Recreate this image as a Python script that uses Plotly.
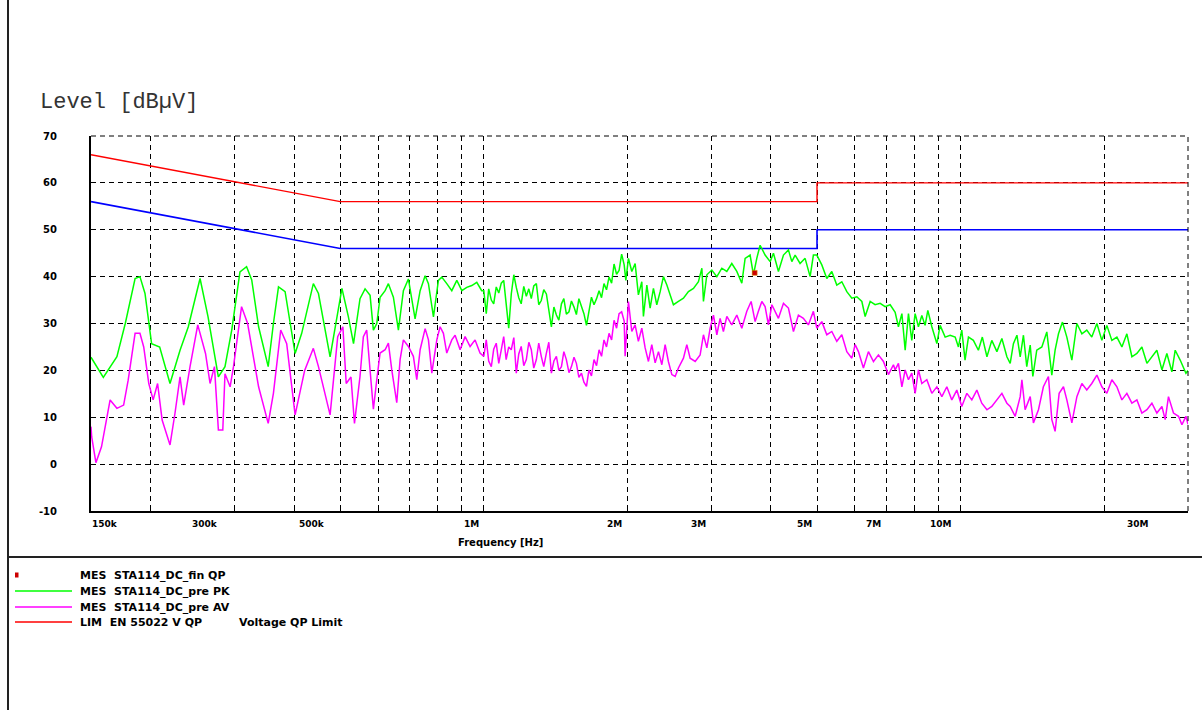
import math
import plotly.graph_objects as go

# ---------------- data ----------------
# frequencies in MHz, levels in dBuV
pk_freq = [0.150, 0.1592, 0.170, 0.177, 0.1856, 0.190, 0.1947, 0.201, 0.209, 0.2197,
           0.2306, 0.240, 0.254, 0.264, 0.2775, 0.2865, 0.296, 0.308, 0.318, 0.326,
           0.337, 0.353, 0.362, 0.371, 0.383, 0.402, 0.415, 0.439, 0.450, 0.476,
           0.504, 0.520, 0.533, 0.550, 0.5636, 0.5774, 0.5867, 0.5964, 0.606, 0.6209,
           0.6308, 0.6462, 0.662, 0.6782, 0.6948, 0.7063, 0.7176, 0.7353, 0.7533, 0.7654,
           0.7842, 0.8031, 0.8163, 0.8363, 0.8568, 0.8778, 0.8994, 0.921, 0.9437, 0.9667,
           0.990,
           1.000, 1.012, 1.024, 1.037, 1.049, 1.062, 1.075, 1.088, 1.101, 1.114,
           1.128, 1.142, 1.156, 1.170, 1.184, 1.198, 1.213, 1.228, 1.243, 1.258,
           1.273, 1.289, 1.304, 1.320, 1.336, 1.353, 1.369, 1.386, 1.403, 1.420,
           1.437, 1.455, 1.472, 1.490, 1.509, 1.527, 1.546, 1.564, 1.583, 1.603,
           1.622, 1.642, 1.662, 1.682, 1.703, 1.724, 1.745, 1.766, 1.787, 1.809,
           1.831, 1.854, 1.876, 1.899, 1.922, 1.946, 1.970, 1.986,
           2.011, 2.044, 2.077, 2.110, 2.145, 2.162,
           2.198, 2.233, 2.269, 2.306, 2.344, 2.381, 2.421, 2.459, 2.499, 2.560,
           2.623, 2.687, 2.753, 2.820, 2.867, 2.889, 2.937, 3.008, 3.082, 3.157,
           3.234, 3.313, 3.394, 3.477, 3.533, 3.619, 3.678, 3.738, 3.798, 3.891,
           3.987, 4.051, 4.150, 4.252, 4.355, 4.427, 4.498, 4.607, 4.720, 4.836,
           4.913, 4.995, 5.117, 5.242, 5.370, 5.501, 5.636, 5.774, 5.915, 6.060,
           6.209, 6.308, 6.463, 6.620, 6.782, 6.947, 7.118, 7.292, 7.409, 7.533,
           7.654, 7.776, 7.902, 8.031, 8.160, 8.295, 8.427, 8.539, 8.706, 8.919,
           9.062, 9.284, 9.510, 9.743, 9.899, 10.06, 10.22, 10.39, 10.64, 10.90,
           11.11, 11.36, 11.63, 11.92, 12.21, 12.51, 12.71, 12.91, 13.13, 13.34,
           13.55, 13.77, 14.00, 14.18, 14.45, 14.81, 15.17, 15.54, 15.79, 16.05,
           16.36, 16.71, 17.12, 17.54, 17.97, 18.40, 18.85, 19.32, 19.79, 20.27,
           20.77, 21.28, 21.80, 22.33, 22.88, 23.44, 24.01, 24.60, 25.20, 25.81,
           26.45, 27.09, 27.75, 28.20, 28.89, 29.70, 30.0]
pk_level = [22.8, 18.5, 22.9, 30.0, 39.6, 40.0, 36.4, 25.7, 25.0, 17.2,
            24.3, 29.3, 39.6, 31.4, 18.6, 20.8, 28.6, 41.0, 42.1, 39.3,
            29.3, 20.8, 30.0, 37.8, 36.8, 23.6, 27.9, 38.5, 36.4, 22.9,
            37.5, 31.4, 25.7, 35.3, 37.4, 36.0, 28.6, 30.0, 35.6, 37.0,
            38.5, 35.6, 28.6, 37.0, 39.5, 35.6, 31.0, 37.0, 40.2, 38.5,
            31.4, 39.2, 39.9, 38.5, 37.0, 39.2, 37.0, 37.7, 38.1, 38.8,
            37.0,
            37.0, 32.1, 37.4, 35.0, 34.2, 37.8, 36.5, 38.6, 39.2, 33.5,
            29.0, 36.3, 40.4, 37.7, 35.5, 34.2, 37.9, 35.8, 37.4, 35.3,
            38.0, 38.5, 34.0, 34.9, 37.2, 36.3, 33.0, 29.3, 33.5, 31.8,
            30.7, 34.2, 35.3, 32.0, 32.5, 34.8, 33.5, 31.9, 35.3, 33.6,
            32.1, 29.6, 33.0, 35.6, 34.0, 35.3, 37.0, 35.5, 38.5, 37.2,
            39.9, 38.6, 42.7, 40.5, 41.3, 44.8, 42.5, 39.2,
            43.9, 41.1, 42.8, 36.1, 38.9, 31.5,
            38.2, 33.3, 37.5, 34.0, 36.8, 40.0, 38.2, 36.1, 34.0, 34.7,
            35.4, 36.8, 37.5, 38.9, 41.8, 34.7, 40.4, 41.4, 40.0, 41.8,
            41.1, 42.8, 41.1, 38.6, 43.9, 44.6, 40.4, 43.9, 46.7, 44.6,
            43.2, 45.0, 41.1, 44.6, 45.7, 43.2, 44.6, 42.8, 43.9, 40.0,
            44.6, 44.6, 42.5, 39.6, 41.1, 38.2, 38.9, 36.8, 35.4, 35.7,
            34.7, 31.5, 34.7, 34.0, 34.3, 33.6, 34.0, 32.4, 29.3, 32.1,
            24.3, 32.1, 26.4, 32.1, 29.3, 31.7, 29.6, 32.8, 29.3, 25.7,
            29.6, 27.1, 27.5, 27.1, 25.0, 28.6, 22.2, 27.1, 26.4, 24.3,
            27.1, 22.9, 26.4, 24.0, 26.8, 22.9, 21.5, 25.7, 27.5, 22.9,
            27.5, 20.8, 25.4, 18.7, 24.3, 25.0, 28.2, 19.0, 24.3, 27.8,
            30.3, 27.1, 22.2, 30.0, 27.8, 28.6, 27.1, 30.0, 26.4, 29.6,
            26.4, 27.1, 25.0, 27.8, 22.9, 23.6, 25.0, 21.5, 22.9, 24.3,
            20.1, 23.6, 19.7, 24.3, 22.2, 19.4, 20.0]

av_freq = [0.150, 0.1505, 0.1536, 0.1578, 0.1645, 0.170, 0.1756, 0.1795, 0.1856, 0.190,
           0.1935, 0.1983, 0.2025, 0.2069, 0.2115, 0.2197, 0.225, 0.2306, 0.2347, 0.242,
           0.2512, 0.2608, 0.2666, 0.2723, 0.2775, 0.2835, 0.2865, 0.2937, 0.2985, 0.3104,
           0.3196, 0.337, 0.353, 0.362, 0.375, 0.386, 0.402, 0.421, 0.439, 0.450,
           0.476, 0.4817, 0.4938, 0.5063, 0.5145, 0.5265, 0.5355, 0.550, 0.559, 0.568,
           0.5774, 0.5867, 0.5964, 0.606, 0.6209, 0.6308, 0.6412, 0.6568, 0.6675, 0.6782,
           0.6948, 0.7117, 0.7235, 0.7353, 0.7533, 0.7654, 0.778, 0.797, 0.8097, 0.8228,
           0.8363, 0.8568, 0.8706, 0.892, 0.9137, 0.936, 0.9588, 0.982,
           1.000, 1.012, 1.024, 1.037, 1.049, 1.062, 1.075, 1.088, 1.101, 1.114,
           1.128, 1.142, 1.156, 1.170, 1.184, 1.198, 1.213, 1.228, 1.243, 1.258,
           1.273, 1.289, 1.304, 1.320, 1.336, 1.353, 1.369, 1.386, 1.403, 1.420,
           1.437, 1.455, 1.472, 1.490, 1.509, 1.527, 1.546, 1.564, 1.583, 1.603,
           1.622, 1.642, 1.662, 1.682, 1.703, 1.724, 1.745, 1.766, 1.787, 1.809,
           1.831, 1.854, 1.876, 1.899, 1.922, 1.946, 1.970,
           1.979, 2.011, 2.044, 2.077, 2.110, 2.145, 2.180, 2.215, 2.251, 2.288,
           2.325, 2.363, 2.401, 2.439, 2.480, 2.520, 2.560, 2.623, 2.666, 2.709,
           2.776, 2.843, 2.889, 2.937, 2.984, 3.032, 3.082, 3.131, 3.181, 3.234,
           3.313, 3.394, 3.477, 3.562, 3.637, 3.708, 3.767, 3.830, 3.891, 3.954,
           4.020, 4.085, 4.150, 4.252, 4.355, 4.462, 4.570, 4.681, 4.796, 4.913,
           4.995, 5.117, 5.242, 5.370, 5.501, 5.636, 5.774, 5.915, 6.010, 6.107,
           6.256, 6.409, 6.567, 6.726, 6.891, 7.059, 7.232, 7.292, 7.409, 7.533,
           7.654, 7.776, 7.902, 8.031, 8.160, 8.295, 8.497, 8.706, 8.919, 9.137,
           9.360, 9.588, 9.822, 10.06, 10.31, 10.56, 10.82, 11.08, 11.36, 11.63,
           11.92, 12.21, 12.51, 12.71, 13.02, 13.34, 13.45, 13.66, 14.00, 14.22,
           14.57, 14.92, 15.29, 15.54, 15.79, 16.10, 16.44, 16.71, 17.12, 17.54,
           17.97, 18.40, 18.85, 19.32, 19.79, 20.27, 20.77, 21.28, 21.80, 22.33,
           22.88, 23.44, 24.01, 24.60, 25.20, 25.81, 26.45, 26.87, 27.30, 27.97,
           28.66, 29.13, 29.70, 30.0]
av_level = [8.0, 5.8, 0.3, 3.7, 13.7, 11.9, 12.6, 17.9, 27.9, 27.9,
            25.0, 17.2, 13.7, 17.2, 9.4, 4.1, 10.8, 18.6, 12.6, 20.8,
            29.7, 23.6, 17.2, 20.8, 7.3, 7.3, 19.3, 16.5, 20.8, 33.6,
            30.0, 16.5, 8.7, 15.1, 28.6, 25.7, 10.5, 20.0, 24.7, 20.8,
            10.5, 16.5, 27.2, 29.3, 17.2, 18.6, 8.7, 18.7, 27.2, 28.6,
            19.4, 11.7, 18.0, 23.7, 24.4, 25.8, 20.1, 13.1, 22.3, 26.5,
            25.1, 23.0, 18.0, 24.4, 28.9, 26.5, 19.4, 26.5, 29.3, 27.9,
            23.7, 26.5, 27.5, 24.4, 27.2, 25.1, 26.5, 23.7,
            23.0, 26.5, 22.0, 20.8, 24.5, 25.8, 21.5, 24.0, 27.2, 22.3,
            25.0, 24.4, 27.0, 19.4, 23.5, 25.1, 21.0, 22.3, 26.0, 24.4,
            20.5, 22.3, 25.8, 23.0, 20.8, 23.7, 26.0, 19.4, 22.0, 23.0,
            20.0, 20.8, 24.0, 22.3, 19.5, 20.8, 22.8, 21.5, 18.5, 19.4,
            17.5, 16.6, 20.1, 18.8, 22.3, 21.0, 24.4, 23.0, 26.5, 25.0,
            27.9, 26.5, 30.7, 29.0, 32.1, 32.5, 30.5,
            23.0, 34.7, 28.3, 29.7, 26.2, 29.0, 24.8, 21.9, 25.5, 21.6,
            24.0, 21.2, 25.5, 21.9, 19.1, 18.7, 20.5, 22.6, 25.5, 22.6,
            21.9, 23.3, 27.6, 24.8, 29.0, 31.8, 27.6, 31.1, 28.3, 31.5,
            29.7, 31.8, 29.0, 32.6, 34.7, 30.4, 32.6, 34.7, 33.6, 29.7,
            34.0, 32.6, 31.1, 34.3, 33.3, 28.3, 31.8, 31.1, 29.7, 32.6,
            29.0, 30.4, 27.6, 28.3, 26.2, 27.6, 24.0, 22.6, 25.5, 24.0,
            20.5, 24.0, 21.9, 23.3, 21.9, 19.1, 21.2, 20.1, 21.5, 16.5,
            20.1, 18.0, 19.4, 15.1, 20.1, 17.2, 18.0, 15.1, 16.5, 14.4,
            16.5, 13.7, 15.8, 12.3, 15.1, 13.7, 15.8, 13.0, 11.6, 12.3,
            13.7, 15.1, 13.0, 12.3, 10.2, 14.4, 18.0, 11.6, 14.4, 8.8,
            11.6, 16.5, 18.7, 9.5, 7.0, 15.1, 16.5, 13.7, 8.8, 14.4,
            17.2, 15.8, 17.2, 19.0, 16.5, 15.1, 18.0, 16.5, 13.7, 15.1,
            13.0, 13.7, 10.9, 11.6, 13.0, 10.9, 12.3, 9.5, 14.4, 10.9,
            10.2, 8.4, 10.2, 8.5]

qp_final_freq = [3.70]
qp_final_level = [40.8]

lim_freq = [0.15, 0.5, 5.0, 5.0, 30.0]
lim_qp = [66.0, 56.0, 56.0, 60.0, 60.0]
lim_av = [56.0, 46.0, 46.0, 50.0, 50.0]

grid_freq = [0.2, 0.3, 0.4, 0.5, 0.6, 0.7, 0.8, 0.9, 1, 2, 3, 4, 5, 6, 7, 8, 9, 10, 20, 30]
y_ticks = [-10, 0, 10, 20, 30, 40, 50, 60, 70]

x_labels = ["150k", "300k", "500k", "1M", "2M", "3M", "5M", "7M", "10M", "30M"]
x_label_px = [105, 205, 312, 471, 614, 698, 804, 873, 941, 1138]

legend_names = ["MES  STA114_DC_fin QP", "MES  STA114_DC_pre PK",
                "MES  STA114_DC_pre AV", "LIM  EN 55022 V QP"]

# ---------------- layout helpers (pixel -> paper) ----------------
W, H = 1202, 710
L, R, T, B = 91, 1188, 136, 511


def px(x):
    return (x - L) / (R - L)


def py(y):
    return (B - y) / (B - T)


fig = go.Figure()

fig.add_trace(go.Scatter(x=lim_freq, y=lim_av, mode="lines",
                         line=dict(color="#0000FF", width=1.6), hoverinfo="skip"))
fig.add_trace(go.Scatter(x=lim_freq, y=lim_qp, mode="lines",
                         line=dict(color="#FF0000", width=1.4), hoverinfo="skip"))
fig.add_trace(go.Scatter(x=pk_freq, y=pk_level, mode="lines",
                         line=dict(color="#00FF00", width=1.5)))
fig.add_trace(go.Scatter(x=av_freq, y=av_level, mode="lines",
                         line=dict(color="#FF00FF", width=1.5)))
fig.add_trace(go.Scatter(x=qp_final_freq, y=qp_final_level, mode="markers",
                         marker=dict(symbol="square", size=5, color="#CC0000",
                                     line=dict(color="#E0A000", width=0.5))))

shapes = []
# dashed top and right borders of the plot area (grid lines at 70 dB and 30 MHz)
shapes.append(dict(type="line", xref="paper", yref="paper", x0=0, x1=1, y0=1, y1=1,
                   line=dict(color="black", width=1, dash="5px,4px")))
shapes.append(dict(type="line", xref="paper", yref="paper", x0=1, x1=1, y0=0, y1=1,
                   line=dict(color="black", width=1, dash="5px,4px")))
# outer frame lines of the report panel
shapes.append(dict(type="line", xref="paper", yref="paper",
                   x0=px(8), x1=px(8), y0=py(0), y1=py(710),
                   line=dict(color="#222222", width=2)))
shapes.append(dict(type="line", xref="paper", yref="paper",
                   x0=px(8), x1=px(1202), y0=py(557), y1=py(557),
                   line=dict(color="#222222", width=2)))

# legend samples
leg_y = [575, 591, 607, 622]
leg_col = ["#CC0000", "#00FF00", "#FF00FF", "#FF0000"]
shapes.append(dict(type="rect", xref="paper", yref="paper",
                   x0=px(15), x1=px(18.5), y0=py(577.5), y1=py(572.5),
                   fillcolor="#CC0000", line=dict(width=0)))
for yy, cc in zip(leg_y[1:], leg_col[1:]):
    shapes.append(dict(type="line", xref="paper", yref="paper",
                       x0=px(15), x1=px(72), y0=py(yy), y1=py(yy),
                       line=dict(color=cc, width=1.5)))

annotations = []
annotations.append(dict(text="Level [dBµV]", xref="paper", yref="paper",
                        x=px(38), y=py(102), xanchor="left", yanchor="middle",
                        showarrow=False,
                        font=dict(family="Liberation Mono", size=22, color="#333333")))
for lab, xp in zip(x_labels, x_label_px):
    annotations.append(dict(text=lab, xref="paper", yref="paper",
                            x=px(xp), y=py(524), xanchor="center", yanchor="middle",
                            showarrow=False,
                            font=dict(family="DejaVu Sans", size=9, color="black",
                                      weight="bold")))
annotations.append(dict(text="Frequency [Hz]", xref="paper", yref="paper",
                        x=px(500), y=py(542), xanchor="center", yanchor="middle",
                        showarrow=False,
                        font=dict(family="DejaVu Sans", size=10, color="black",
                                  weight="bold")))
for name, yy in zip(legend_names, leg_y):
    annotations.append(dict(text=name.replace("  ", "&nbsp;&nbsp;"), xref="paper",
                            yref="paper", x=px(78), y=py(yy), xanchor="left",
                            yanchor="middle", showarrow=False,
                            font=dict(family="DejaVu Sans", size=11, color="black",
                                      weight="bold")))
annotations.append(dict(text="Voltage QP Limit", xref="paper", yref="paper",
                        x=px(237), y=py(622), xanchor="left", yanchor="middle",
                        showarrow=False,
                        font=dict(family="DejaVu Sans", size=11, color="black",
                                  weight="bold")))

fig.update_layout(
    width=W, height=H,
    margin=dict(l=L, r=W - R, t=T, b=H - B, pad=0),
    paper_bgcolor="white", plot_bgcolor="white",
    showlegend=False,
    shapes=shapes,
    annotations=annotations,
    xaxis=dict(type="log", range=[math.log10(0.15), math.log10(30)],
               tickvals=grid_freq, showticklabels=False,
               ticks="inside", ticklen=5, tickcolor="black", tickwidth=1,
               showgrid=True, gridcolor="black", gridwidth=1, griddash="5px,4px",
               showline=True, linecolor="black", linewidth=2, zeroline=False,
               fixedrange=True),
    yaxis=dict(range=[-10, 70], tickvals=y_ticks,
               ticktext=[str(v) for v in y_ticks],
               ticks="", ticklabelstandoff=30,
               tickfont=dict(family="DejaVu Sans", size=10, color="black", weight="bold"),
               showgrid=True, gridcolor="black", gridwidth=1, griddash="5px,4px",
               showline=True, linecolor="black", linewidth=2, zeroline=False,
               fixedrange=True),
)

fig.write_html("out.html", config={"displayModeBar": False},
               post_script="document.body.style.margin='0';")
